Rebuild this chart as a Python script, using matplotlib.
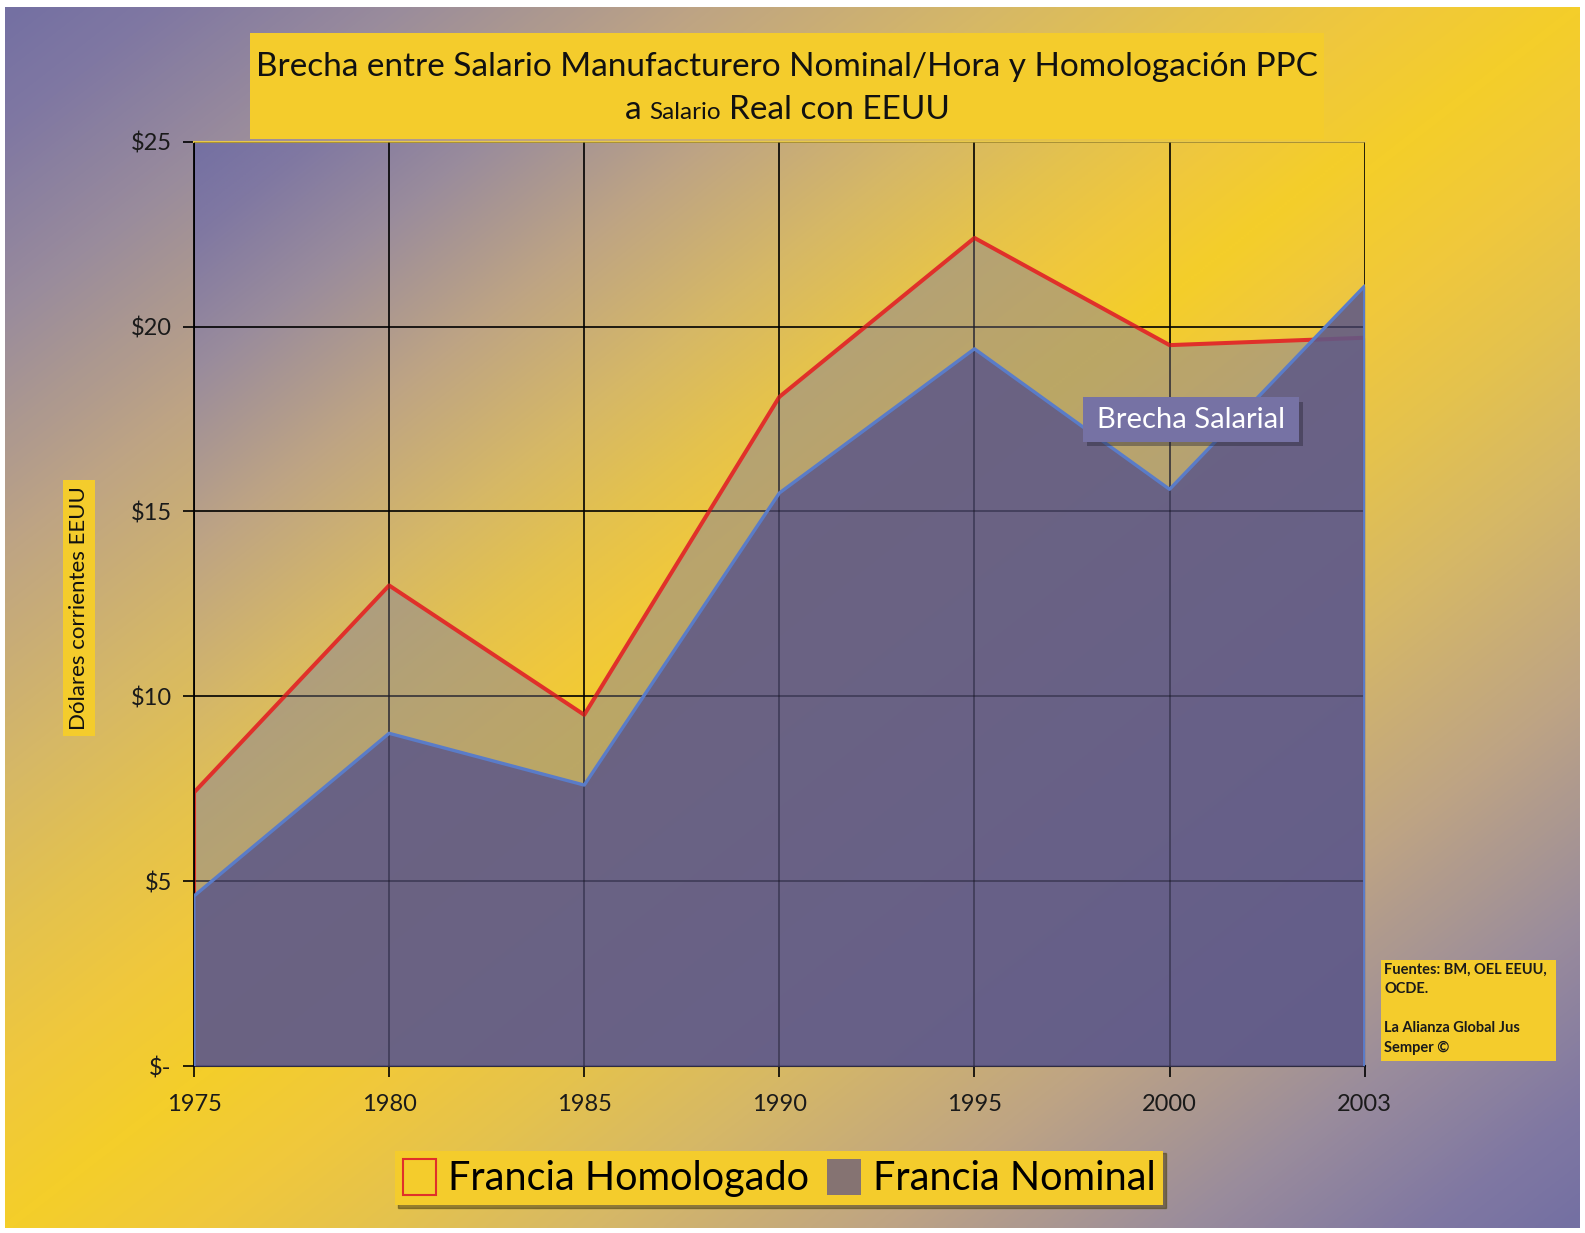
import numpy as np
import matplotlib
matplotlib.use("Agg")
import matplotlib.pyplot as plt
from matplotlib.colors import LinearSegmentedColormap
from matplotlib.patches import Rectangle, Patch
from matplotlib.offsetbox import TextArea, HPacker, AnnotationBbox
import matplotlib.patheffects as pe

plt.rcParams['font.family'] = ['Lato', 'DejaVu Sans']

# data
years = ['1975', '1980', '1985', '1990', '1995', '2000', '2003']
homologado = [7.4, 13.0, 9.5, 18.1, 22.4, 19.5, 19.7]
nominal = [4.6, 9.0, 7.6, 15.5, 19.4, 15.6, 21.1]
y_ticks = [0, 5, 10, 15, 20, 25]
y_labels = [r'\$-', r'\$5', r'\$10', r'\$15', r'\$20', r'\$25']

YELLOW = '#f4cc2c'
W, H = 1585, 1233

# yellow along the anti-diagonal, blue-grey towards top-left / bottom-right corners
cmap = LinearSegmentedColormap.from_list('bg', [
    (0.00, '#f4ce2a'), (0.12, '#f0c83c'), (0.24, '#e4c24e'), (0.37, '#d6b866'),
    (0.56, '#bea484'), (0.75, '#9a8c9c'), (0.90, '#8078a2'), (1.00, '#7470a2')])


def gradient(n=400):
    u, v = np.meshgrid(np.linspace(0, 1, n), np.linspace(0, 1, n))
    return np.abs(u + v - 1)


fig = plt.figure(figsize=(W / 100, H / 100), dpi=100, facecolor='white')

x0p, x1p, y0p, y1p = 5, 1580, 7, 1228
bg = fig.add_axes([x0p / W, 1 - y1p / H, (x1p - x0p) / W, (y1p - y0p) / H], zorder=-10)
bg.imshow(gradient(), cmap=cmap, vmin=0, vmax=1, aspect='auto', interpolation='bilinear')
bg.axis('off')

ax = fig.add_axes([0.1224, 0.1354, 0.7386, 0.7496])
ax.set_facecolor('none')
ax.imshow(gradient(), cmap=cmap, vmin=0, vmax=1, aspect='auto', interpolation='bilinear',
          extent=(0, 1, 0, 1), transform=ax.transAxes, zorder=0)
x = np.arange(len(years))

# grid under the fills
for v in y_ticks[1:]:
    ax.axhline(v, color='black', lw=1.1, zorder=0.5)
for xi in x:
    ax.axvline(xi, color='black', lw=1.1, zorder=0.5)

ax.fill_between(x, 0, homologado, color='#8c8796', alpha=0.55, lw=0, zorder=1)
ax.plot(np.r_[0, x, x[-1]], np.r_[0, homologado, 0], color='#e0302a', lw=2.9, zorder=2)
ax.fill_between(x, 0, nominal, color='#5f5987', alpha=0.88, lw=0, zorder=3)

# grid faintly showing through the fills
for v in y_ticks[1:]:
    ax.axhline(v, color='black', lw=1.1, alpha=0.35, zorder=3.5)
for xi in x:
    ax.axvline(xi, color='black', lw=1.1, alpha=0.35, zorder=3.5)

ax.plot(np.r_[0, x, x[-1]], np.r_[0, nominal, 0], color='#5a7cc8', lw=2.4, zorder=4)

ax.set_xlim(0, len(years) - 1)
ax.set_ylim(0, 25)
ax.set_xticks(x, years)
ax.set_yticks(y_ticks, y_labels)
ax.tick_params(axis='both', length=8, width=1.2, color='black', labelsize=17, labelcolor='#1a1a1a')
ax.tick_params(axis='x', pad=12)
ax.tick_params(axis='y', pad=8)
ax.spines['right'].set_visible(False)
ax.spines['top'].set_color('#e8c84a')
ax.spines['top'].set_linewidth(1.5)
ax.spines['left'].set_linewidth(1.3)
ax.spines['bottom'].set_linewidth(1.5)

# gap label
box = Rectangle((0.759, 0.675), 0.185, 0.0485, transform=ax.transAxes, fc='#7672a4', ec='none',
                zorder=6)
box.set_path_effects([pe.SimplePatchShadow(offset=(3, -3), alpha=0.4), pe.Normal()])
ax.add_patch(box)
ax.text(0.8515, 0.6995, 'Brecha Salarial', transform=ax.transAxes, color='white', fontsize=21,
        ha='center', va='center', zorder=7)

# title
fig.add_artist(Rectangle((250 / W, 1 - 139 / H), 1074 / W, 106 / H, transform=fig.transFigure,
                         fc=YELLOW, ec='none', zorder=1))
fig.text(0.4968, 0.946, 'Brecha entre Salario Manufacturero Nominal/Hora y Homologación PPC',
         ha='center', va='center', fontsize=24, color='#111111', zorder=2)
line2 = HPacker(children=[TextArea('a', textprops=dict(fontsize=24, color='#111111')),
                          TextArea('Salario', textprops=dict(fontsize=17.5, color='#111111')),
                          TextArea('Real con EEUU', textprops=dict(fontsize=24, color='#111111'))],
                align='baseline', pad=0, sep=6)
fig.add_artist(AnnotationBbox(line2, (0.4968, 0.911), xycoords='figure fraction', frameon=False,
                              box_alignment=(0.5, 0.5), zorder=2))

# y axis label
fig.text(0.05, 0.507, 'Dólares corrientes EEUU', rotation=90, ha='center', va='center',
         fontsize=16, color='#111111',
         bbox=dict(boxstyle='square,pad=0.28', fc=YELLOW, ec='none'))

# sources
fig.add_artist(Rectangle((0.871, 0.1395), 0.111, 0.082, transform=fig.transFigure,
                         fc=YELLOW, ec='none', zorder=1))
fig.text(0.8735, 0.2195, 'Fuentes: BM, OEL EEUU,\nOCDE.\n\nLa Alianza Global Jus\nSemper ©',
         ha='left', va='top', fontsize=10.5, fontweight='bold', color='#1a1a1a',
         linespacing=1.5, zorder=2)

# legend
handles = [Patch(facecolor='none', edgecolor='#e0302a', lw=1.5),
           Patch(facecolor='#857372', edgecolor='none')]
fig.legend(handles, ['Francia Homologado', 'Francia Nominal'], loc='center',
           bbox_to_anchor=(0.4915, 0.0446), ncol=2, fontsize=28.5, frameon=True,
           fancybox=False, shadow=True, facecolor=YELLOW, edgecolor='none', framealpha=1,
           handlelength=0.85, handleheight=1.05, handletextpad=0.3, columnspacing=0.45,
           borderpad=0.2, borderaxespad=0)

fig.savefig('out.png', dpi=100, facecolor='white')
